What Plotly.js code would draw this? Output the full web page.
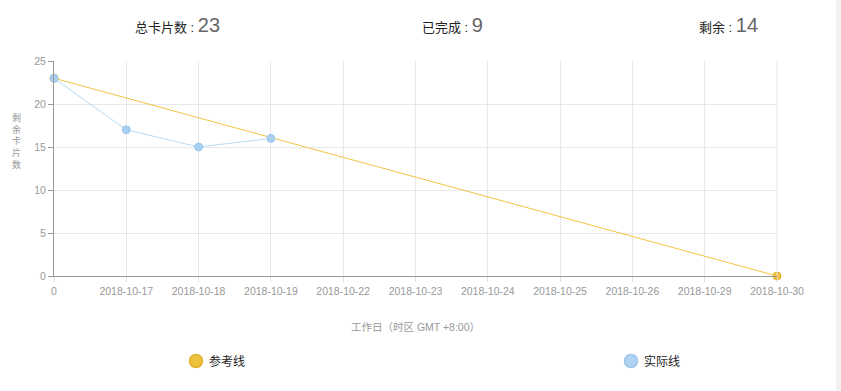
<!DOCTYPE html>
<html><head><meta charset="utf-8">
<script src="https://cdn.plot.ly/plotly-3.0.1.min.js"></script>
<style>html,body{margin:0;padding:0;background:#fff;}#c{width:841px;height:391px;}</style>
</head><body><div id="c"></div>
<script>
const categories = ['0','2018-10-17','2018-10-18','2018-10-19','2018-10-22','2018-10-23','2018-10-24','2018-10-25','2018-10-26','2018-10-29','2018-10-30'];
const refX = ['0','2018-10-30'];
const refY = [23, 0];
const actualX = ['0','2018-10-17','2018-10-18','2018-10-19'];
const actualY = [23, 17, 15, 16];
const totalCards = 23, doneCards = 9, remainCards = 14;
const seriesNames = ['参考线','实际线'];

const traces = [
  {x: refX, y: refY, type:'scatter', mode:'lines+markers', name: seriesNames[0], cliponaxis:false,
   line:{color:'#f2c442', width:1}, marker:{size:8, color:'#efc13c', line:{color:'#e2b12d', width:1}}, showlegend:false, hoverinfo:'x+y'},
  {x: actualX, y: actualY, type:'scatter', mode:'lines+markers', name: seriesNames[1], cliponaxis:false,
   line:{color:'#b5dbf5', width:1}, marker:{size:8, color:'#a9d0f1', line:{color:'#9fc8ec', width:1}}, showlegend:false, hoverinfo:'x+y'}
];

const font = "'Liberation Sans', Arial, 'Noto Sans CJK SC', sans-serif";
const layout = {
  width:841, height:391,
  margin:{l:54, r:64, t:61, b:115},
  paper_bgcolor:'#fff', plot_bgcolor:'#fff',
  font:{family:font, color:'#999', size:10},
  showlegend:false,
  xaxis:{type:'category', categoryorder:'array', categoryarray:categories, tickvals:categories, ticktext:categories,
    range:[0, categories.length-1], showgrid:true, gridcolor:'#e8e8e8', gridwidth:1,
    showline:true, linecolor:'#999', linewidth:1, ticks:'outside', ticklen:5, tickcolor:'#e0e0e0',
    tickfont:{size:10.5, color:'#999'}, zeroline:false, fixedrange:true,
    title:{text:'工作日（时区 GMT +8:00）', font:{size:10.5, color:'#999'}, standoff:28}},
  yaxis:{range:[0,25], dtick:5, showgrid:true, gridcolor:'#e8e8e8', showline:true, linecolor:'#999', linewidth:1,
    ticks:'outside', ticklen:5, tickcolor:'#999', zeroline:false, fixedrange:true,
    tickfont:{size:10.5, color:'#999'}},
  shapes:[
    {type:'line', xref:'paper', yref:'paper', x0:1, x1:1, y0:0, y1:1, line:{color:'#e8e8e8', width:1}},
    {type:'rect', xref:'paper', yref:'paper', x0:(836-54)/723, x1:(845-54)/723, y0:-0.6, y1:1.35, fillcolor:'#f2f2f2', line:{width:0}, layer:'below'},
    {type:'circle', xref:'paper', yref:'paper', xsizemode:'pixel', ysizemode:'pixel', xanchor:(196-54)/723, yanchor:(276-361)/215,
      x0:-6.5, x1:6.5, y0:-6.5, y1:6.5, fillcolor:'#efc23e', line:{color:'#e0b02e', width:1.5}},
    {type:'circle', xref:'paper', yref:'paper', xsizemode:'pixel', ysizemode:'pixel', xanchor:(631-54)/723, yanchor:(276-361)/215,
      x0:-6.5, x1:6.5, y0:-6.5, y1:6.5, fillcolor:'#aed2f1', line:{color:'#9dc6ea', width:1.5}}
  ],
  annotations:[
    {xref:'paper', yref:'paper', x:(177-54)/723, y:(276-25)/215, xanchor:'center', yanchor:'middle', showarrow:false,
     text:"总卡片数 : <span style='font-size:20px;color:#666'>"+totalCards+"</span>", font:{size:13, color:'#222'}},
    {xref:'paper', yref:'paper', x:(452-54)/723, y:(276-25)/215, xanchor:'center', yanchor:'middle', showarrow:false,
     text:"已完成 : <span style='font-size:20px;color:#666'>"+doneCards+"</span>", font:{size:13, color:'#222'}},
    {xref:'paper', yref:'paper', x:(728-54)/723, y:(276-25)/215, xanchor:'center', yanchor:'middle', showarrow:false,
     text:"剩余 : <span style='font-size:20px;color:#666'>"+remainCards+"</span>", font:{size:13, color:'#222'}},
    {xref:'paper', yref:'paper', x:(16-54)/723, y:(276-141)/215, xanchor:'center', yanchor:'middle', showarrow:false,
     text:'剩<br>余<br>卡<br>片<br>数', font:{size:9, color:'#999'}},
    {xref:'paper', yref:'paper', x:(207-54)/723, y:(276-361)/215, xanchor:'left', yanchor:'middle', showarrow:false,
     text:seriesNames[0], font:{size:12, color:'#222'}},
    {xref:'paper', yref:'paper', x:(642-54)/723, y:(276-361)/215, xanchor:'left', yanchor:'middle', showarrow:false,
     text:seriesNames[1], font:{size:12, color:'#222'}}
  ]
};
Plotly.newPlot('c', traces, layout, {displayModeBar:false, staticPlot:true});
</script></body></html>
